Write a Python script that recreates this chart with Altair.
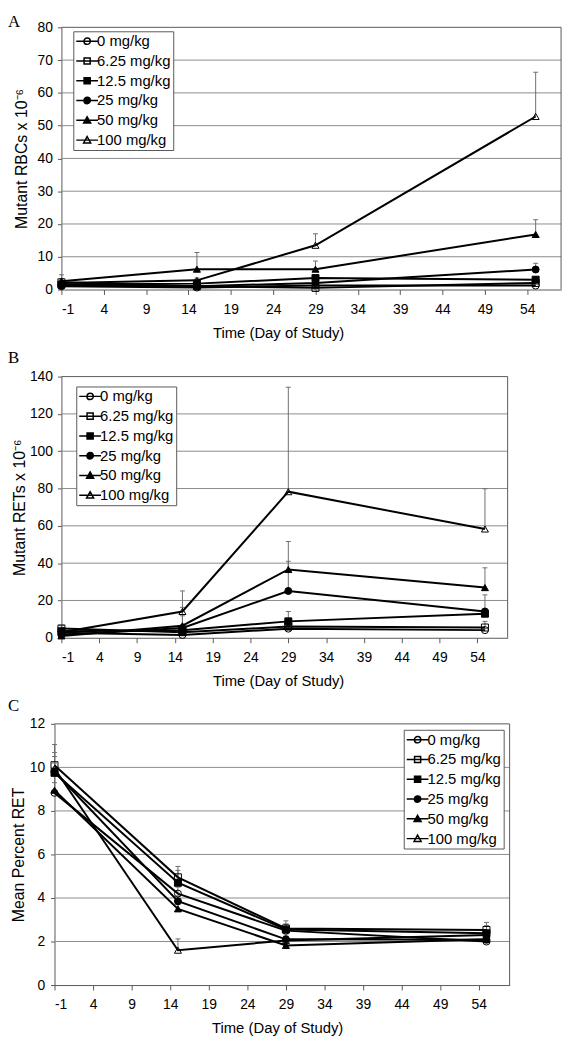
import altair as alt
import pandas as pd

DAYS = [-1, 15, 29, 55]
DOSES = ["0 mg/kg", "6.25 mg/kg", "12.5 mg/kg", "25 mg/kg", "50 mg/kg", "100 mg/kg"]

# Panel A: Mutant RBCs x 10^-6 (mean, upper error bar end)
RBC_MEAN = {
    "0 mg/kg": [1.0, 0.6, 1.2, 1.2],
    "6.25 mg/kg": [2.2, 1.0, 0.5, 2.0],
    "12.5 mg/kg": [1.5, 1.8, 3.5, 3.0],
    "25 mg/kg": [1.2, 1.0, 2.0, 6.1],
    "50 mg/kg": [2.5, 6.2, 6.2, 16.8],
    "100 mg/kg": [2.0, 2.8, 13.5, 52.8],
}
RBC_UPPER = {
    "0 mg/kg": [1.6, 1.0, 1.8, 1.6],
    "6.25 mg/kg": [4.5, 1.6, 1.0, 2.6],
    "12.5 mg/kg": [2.2, 2.4, 4.2, 3.6],
    "25 mg/kg": [1.8, 1.6, 2.6, 8.0],
    "50 mg/kg": [3.3, 11.3, 8.7, 21.3],
    "100 mg/kg": [2.8, 3.5, 17.0, 66.3],
}

# Panel B: Mutant RETs x 10^-6
RET_MEAN = {
    "0 mg/kg": [2.7, 1.5, 4.9, 4.1],
    "6.25 mg/kg": [5.0, 3.0, 6.0, 5.5],
    "12.5 mg/kg": [3.5, 4.0, 8.8, 12.9],
    "25 mg/kg": [1.5, 5.3, 25.1, 14.1],
    "50 mg/kg": [1.0, 6.5, 36.6, 26.9],
    "100 mg/kg": [3.0, 14.1, 78.3, 58.3],
}
RET_UPPER = {
    "0 mg/kg": [3.5, 2.5, 6.0, 5.0],
    "6.25 mg/kg": [6.5, 4.0, 7.5, 8.8],
    "12.5 mg/kg": [4.5, 5.5, 14.1, 15.0],
    "25 mg/kg": [2.5, 11.8, 41.0, 23.0],
    "50 mg/kg": [2.0, 16.3, 51.6, 37.5],
    "100 mg/kg": [4.0, 25.1, 134.3, 79.9],
}

# Panel C: Mean Percent RET
PCT_MEAN = {
    "0 mg/kg": [8.83, 4.2, 2.5, 2.0],
    "6.25 mg/kg": [10.1, 4.95, 2.6, 2.53],
    "12.5 mg/kg": [9.75, 4.7, 2.55, 2.38],
    "25 mg/kg": [9.8, 3.85, 2.1, 2.08],
    "50 mg/kg": [8.95, 3.5, 1.82, 2.1],
    "100 mg/kg": [9.95, 1.6, 2.05, 2.3],
}
PCT_UPPER = {
    "0 mg/kg": [10.5, 4.5, 2.8, 2.2],
    "6.25 mg/kg": [11.05, 5.45, 2.95, 2.88],
    "12.5 mg/kg": [10.68, 5.27, 2.8, 2.73],
    "25 mg/kg": [10.2, 4.1, 2.3, 2.2],
    "50 mg/kg": [9.3, 3.7, 2.0, 2.25],
    "100 mg/kg": [10.5, 2.12, 2.2, 2.45],
}

X_TICKS = [-1, 4, 9, 14, 19, 24, 29, 34, 39, 44, 49, 54]
X_MIN, X_MAX = -1, 58

SHAPES = ["circle", "square", "square", "circle", "triangle-up", "triangle-up"]
FILLS = ["transparent", "transparent", "black", "black", "black", "transparent"]
STROKES = ["black"] * 6

# legend symbols: line segment plus marker (custom paths)
LINE = "M-1,0H2.14"
CIRC = "M1.03,0A0.46,0.46,0,1,1,0.11,0A0.46,0.46,0,1,1,1.03,0Z"
SQR = "M0.13,-0.44H1.01V0.44H0.13Z"
TRI = "M0.57,-0.52L1.08,0.4H0.06Z"
LEG_SHAPES = [LINE + CIRC, LINE + SQR, LINE + SQR, LINE + CIRC, LINE + TRI, LINE + TRI]

FONT = "Liberation Sans"
GRAY = "#6e6e6e"
GRID = "#8c8c8c"
FRAME = "#595959"


def panel(letter, mean, upper, ytitle, ymax, ystep, width, height,
          letter_x, letter_y, ytitle_x, xtitle_x, ylab_pad, legend_pos, shift=0):
    rows = []
    for d in DOSES:
        for j, day in enumerate(DAYS):
            rows.append({"dose": d, "day": day, "mean": mean[d][j], "upper": upper[d][j]})
    df = pd.DataFrame(rows)
    yticks = list(range(0, ymax + 1, ystep))

    if shift:
        xscale = alt.Scale(domain=[X_MIN, X_MAX], range=[-shift, width], nice=False, zero=False)
    else:
        xscale = alt.Scale(domain=[X_MIN, X_MAX], nice=False, zero=False)
    yscale = alt.Scale(domain=[0, ymax], nice=False)
    xaxis = alt.Axis(values=X_TICKS, title="Time (Day of Study)", grid=False,
                     labelExpr="'' + datum.value",
                     tickSize=5, labelPadding=8, titleX=xtitle_x, titleY=36,
                     titleAlign="center", titleBaseline="top", titleFontSize=15)
    yaxis = alt.Axis(values=yticks, title=ytitle, grid=False, offset=shift,
                     tickSize=4, labelPadding=ylab_pad, titleX=ytitle_x,
                     titleY=height / 2, titleBaseline="bottom", titleFontSize=16)

    x_enc = alt.X("day:Q", scale=xscale, axis=xaxis)
    y_mean = alt.Y("mean:Q", scale=yscale, axis=yaxis)
    y_up = alt.Y("upper:Q", scale=yscale, axis=yaxis)

    base = alt.Chart(df)

    # gridlines and frame, drawn through the scales
    gdf = pd.DataFrame({"g": yticks[1:-1], "x0": X_MIN, "x1": X_MAX})
    grid = alt.Chart(gdf).mark_rule(color=GRID, strokeWidth=1).encode(
        x=alt.X("x0:Q", scale=xscale, axis=xaxis), x2="x1:Q",
        y=alt.Y("g:Q", scale=yscale, axis=yaxis))
    fdf = pd.DataFrame({"x0": [X_MIN, X_MAX], "x1": [X_MAX, X_MAX],
                        "y0": [ymax, 0], "y1": [ymax, ymax]})
    frame = alt.Chart(fdf).mark_rule(color=FRAME, strokeWidth=1).encode(
        x=alt.X("x0:Q", scale=xscale, axis=xaxis), x2="x1:Q",
        y=alt.Y("y0:Q", scale=yscale, axis=yaxis), y2="y1:Q")

    lab = alt.Chart(pd.DataFrame({"t": [letter]})).mark_text(
        font="Liberation Serif", fontSize=17, align="left", baseline="alphabetic",
        color="black").encode(x=alt.value(letter_x), y=alt.value(letter_y), text="t:N")

    err = base.mark_rule(color=GRAY, strokeWidth=1).encode(x=x_enc, y=y_mean, y2="upper:Q")
    caps = base.mark_tick(orient="horizontal", size=5, thickness=1, color=GRAY,
                          opacity=1).encode(x=x_enc, y=y_up)
    lines = base.mark_line(color="black", strokeWidth=2).encode(
        x=x_enc, y=y_mean, detail="dose:N")
    pts = base.mark_point(size=50, strokeWidth=1, color="black", opacity=1).encode(
        x=x_enc, y=y_mean,
        shape=alt.Shape("dose:N", scale=alt.Scale(domain=DOSES, range=SHAPES), legend=None),
        fill=alt.Fill("dose:N", scale=alt.Scale(domain=DOSES, range=FILLS), legend=None),
    )

    leg = alt.Legend(title=None, labelFont=FONT, labelFontSize=15, labelColor="black",
                     symbolSize=196, symbolStrokeWidth=1.5, symbolStrokeColor="black",
                     padding=2, rowPadding=4, labelOffset=6,
                     strokeColor=FRAME, fillColor="white", **legend_pos)
    carrier = base.transform_filter("datum.day > 1000").mark_point(
        strokeWidth=1.5, opacity=1).encode(
        x=x_enc, y=y_mean,
        shape=alt.Shape("dose:N", scale=alt.Scale(domain=DOSES, range=LEG_SHAPES), legend=leg),
        fill=alt.Fill("dose:N", scale=alt.Scale(domain=DOSES, range=FILLS), legend=leg),
        stroke=alt.Stroke("dose:N", scale=alt.Scale(domain=DOSES, range=STROKES), legend=leg),
    )

    return alt.layer(grid, frame, lab, err, caps, lines, pts, carrier).resolve_scale(
        shape="independent", fill="independent", stroke="independent"
    ).properties(width=width, height=height)


A = panel("A", RBC_MEAN, RBC_UPPER, "Mutant RBCs x 10⁻⁶", 80, 10, 505, 265,
          -54, 0, -32.6, 219, 5, dict(orient="none", legendX=12, legendY=4))
B = panel("B", RET_MEAN, RET_UPPER, "Mutant RETs x 10⁻⁶", 140, 20, 451, 264,
          -54, -14, -34.6, 219, 5, dict(orient="none", legendX=15, legendY=10))
C = panel("C", PCT_MEAN, PCT_UPPER, "Mean Percent RET", 12, 2, 453, 264,
          -54, -13, -28.6, 218, 6, dict(orient="top-right", offset=6), shift=7)

chart = alt.vconcat(A, B, C, spacing=9).resolve_legend(
    shape="independent", fill="independent", stroke="independent").properties(
    padding={"left": 0, "top": 0, "right": 5, "bottom": 0}
).configure_view(strokeOpacity=0).configure_axis(
    labelFont=FONT, titleFont=FONT, labelFontSize=14, titleFontWeight="normal",
    labelColor="black", titleColor="black", domainColor=FRAME, tickColor=FRAME,
    domainWidth=1, tickWidth=1)

chart.save("out.html", embed_options={"renderer": "svg", "actions": False})
